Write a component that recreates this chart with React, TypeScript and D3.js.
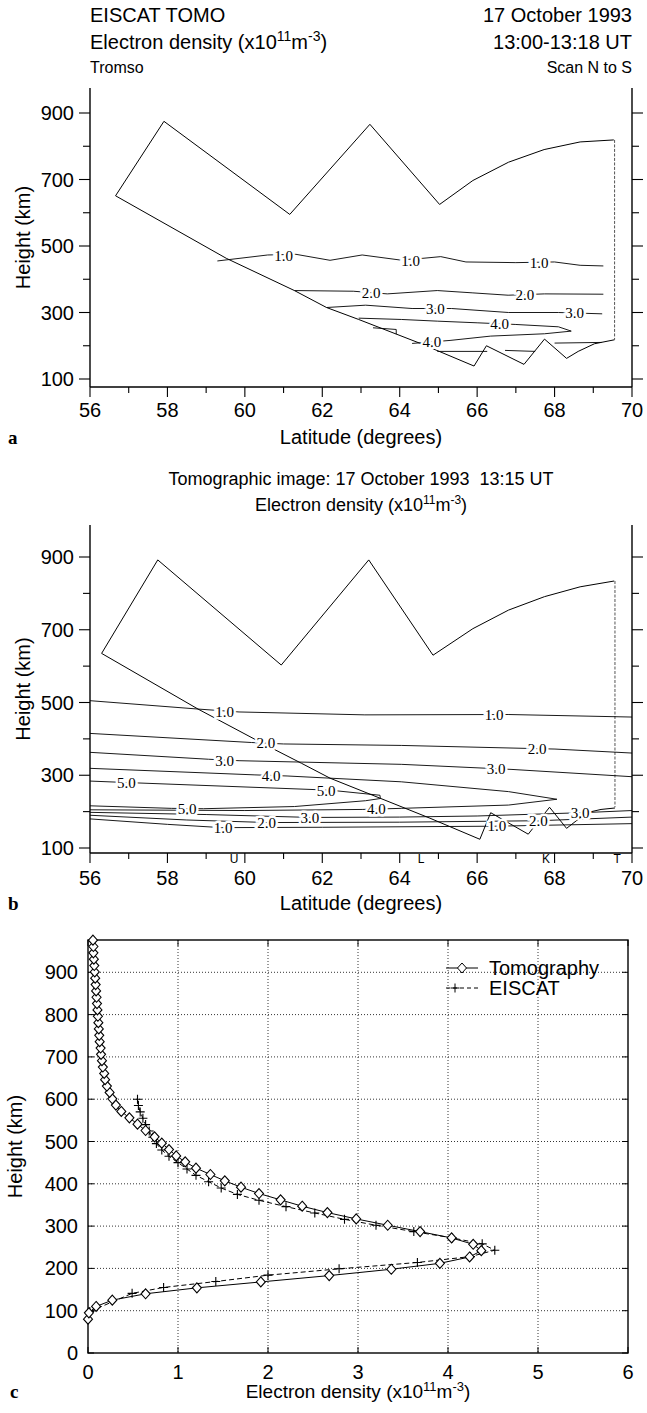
import React from "react";
import * as d3 from "d3";

// ---------------- Panel a (EISCAT) ----------------
const latTicks = [56, 57, 58, 59, 60, 61, 62, 63, 64, 65, 66, 67, 68, 69, 70];
const latLabels = [56, 58, 60, 62, 64, 66, 68, 70];
const hTicksAB = [100, 200, 300, 400, 500, 600, 700, 800, 900];
const hLabelsAB = [100, 300, 500, 700, 900];

const outlineATop: [number, number][] = [
  [56.66, 651], [57.91, 875], [61.16, 595], [63.23, 866], [65.03, 625],
  [65.89, 697], [66.81, 752], [67.73, 790], [68.66, 813], [69.53, 819],
];
const outlineARight: [number, number][] = [[69.55, 819], [69.55, 218]];
const outlineABottom: [number, number][] = [
  [69.55, 218], [69.03, 206], [68.61, 183], [68.31, 162], [67.74, 220], [67.21, 144],
  [66.24, 200], [65.92, 139], [64.51, 208], [62.94, 279], [62.11, 315],
  [61.28, 366], [59.52, 463], [56.66, 651],
];
const contA1: [number, number][] = [
  [59.29, 455], [60.59, 473], [61.32, 475], [62.2, 457], [63.03, 473], [64.0, 458],
  [64.6, 463], [65.06, 468], [65.71, 452], [67.0, 450], [68.0, 452], [68.66, 442], [69.26, 440],
];
const contA2: [number, number][] = [
  [61.28, 366], [62.8, 364], [63.68, 356], [64.97, 366], [65.89, 359], [66.8, 352],
  [67.74, 356], [69.26, 355],
];
const contA3: [number, number][] = [
  [62.11, 315], [63.12, 322], [64.32, 312], [65.34, 312], [66.81, 300], [68.1, 300], [69.23, 296],
];
const contA4: [number, number][] = [
  [62.94, 283], [64.05, 279], [64.97, 274], [66.0, 269], [67.0, 264], [68.1, 257],
  [68.43, 244], [67.74, 236], [66.35, 229], [65.3, 216], [64.32, 207],
];
const contAHook: [number, number][] = [[63.31, 254], [63.91, 249], [63.91, 235]];
const contALow1: [number, number][] = [[64.97, 183], [66.26, 183]];
const contALow2: [number, number][] = [[66.72, 186], [67.5, 183]];
const contALow3: [number, number][] = [[68.0, 208], [69.21, 210]];
const labelsA: [string, number, number][] = [
  ["1.0", 61.0, 471], ["1.0", 64.28, 456], ["1.0", 67.6, 450],
  ["2.0", 63.26, 360], ["2.0", 67.23, 354],
  ["3.0", 64.92, 312], ["3.0", 68.52, 298],
  ["4.0", 66.58, 266], ["4.0", 64.83, 211],
];

// ---------------- Panel b (tomography) ----------------
const outlineBTop: [number, number][] = [
  [56.3, 635], [57.75, 892], [60.94, 603], [63.2, 892], [64.86, 630],
  [65.89, 703], [66.81, 754], [67.74, 791], [68.66, 818], [69.54, 834],
];
const outlineBRight: [number, number][] = [[69.56, 834], [69.56, 212]];
const outlineBBottom: [number, number][] = [
  [69.56, 210], [69.2, 206], [68.83, 197], [68.31, 154], [67.87, 212], [67.32, 138],
  [66.35, 197], [66.07, 124], [64.78, 182], [63.49, 237], [62.2, 292],
  [61.46, 333], [60.45, 388], [58.79, 482], [56.3, 635],
];
const contB1: [number, number][] = [[56, 505], [58.79, 482], [59.85, 474], [63.1, 466], [66.8, 467], [70, 460]];
const contB2: [number, number][] = [[56, 415], [60.17, 390], [61.0, 386], [64.04, 382], [68.01, 372], [70, 361]];
const contB3: [number, number][] = [[56, 363], [59.06, 344], [59.85, 340], [64.04, 330], [66.9, 316], [70, 296]];
const contB4: [number, number][] = [
  [56, 319], [60.26, 301], [61.09, 298], [64.04, 282], [66.81, 255], [68.06, 234],
  [66.81, 218], [64.04, 209], [63.03, 206], [60, 203], [56, 205],
];
const contB5: [number, number][] = [
  [56, 284], [56.94, 280], [62.2, 259], [63.49, 245], [63.5, 236], [63.12, 230],
  [61.28, 214], [58.93, 208], [58.1, 209], [56, 216],
];
const contB3Low: [number, number][] = [[56, 198], [59, 192], [61.7, 184], [64, 185], [66, 188], [68.7, 197], [70, 203]];
const contB2Low: [number, number][] = [[56, 190], [58.5, 177], [60.6, 170], [64, 171], [67.6, 175], [70, 185]];
const contB1Low: [number, number][] = [[56, 180], [58, 165], [59.4, 156], [62, 157], [66.5, 160], [70, 167]];
const labelsB: [string, number, number][] = [
  ["1.0", 59.48, 475], ["1.0", 66.44, 466],
  ["2.0", 60.54, 388], ["2.0", 67.55, 373],
  ["3.0", 59.48, 341], ["3.0", 66.49, 318],
  ["4.0", 60.68, 299], ["4.0", 63.4, 207],
  ["5.0", 56.94, 280], ["5.0", 62.1, 258], ["5.0", 58.51, 208],
  ["1.0", 59.44, 155], ["2.0", 60.56, 169], ["3.0", 61.68, 183],
  ["1.0", 66.51, 160], ["2.0", 67.58, 175], ["3.0", 68.66, 197],
];
const stations: [string, number][] = [["U", 59.72], ["L", 64.55], ["K", 67.78], ["T", 69.62]];

// ---------------- Panel c (profiles) ----------------
const tomoHeight = [
  80, 95, 110, 125, 140, 154, 168, 183, 198, 212, 227, 242, 257, 272, 287, 302, 317, 332,
  347, 362, 377, 392, 407, 422, 437, 452, 466, 481, 496, 511, 526, 541, 556, 571, 586, 601,
  616, 631, 646, 661, 676, 691, 706, 721, 736, 751, 766, 781, 796, 811, 826, 841, 856, 871,
  886, 901, 916, 931, 946, 961, 976,
];
const tomoDensity = [
  0.0, 0.01, 0.09, 0.27, 0.64, 1.21, 1.92, 2.68, 3.37, 3.91, 4.24, 4.37, 4.28, 4.04, 3.69, 3.33, 2.98, 2.66,
  2.38, 2.14, 1.9, 1.7, 1.52, 1.36, 1.2, 1.08, 0.98, 0.9, 0.82, 0.74, 0.64, 0.55, 0.46, 0.37, 0.31, 0.27,
  0.24, 0.21, 0.19, 0.18, 0.165, 0.155, 0.145, 0.14, 0.13, 0.125, 0.12, 0.115, 0.11, 0.105, 0.1, 0.095, 0.09, 0.085,
  0.08, 0.075, 0.07, 0.065, 0.06, 0.06, 0.055,
];
const eiscatHeight = [
  98, 141, 155, 169, 184, 199, 214, 228, 243, 258, 272, 287, 302, 316, 331, 346, 361, 375,
  390, 405, 420, 435, 450, 465, 480, 495, 510, 525, 540, 555, 570, 585, 600,
];
const eiscatDensity = [
  0.02, 0.49, 0.84, 1.42, 2.0, 2.79, 3.66, 4.25, 4.52, 4.38, 4.05, 3.62, 3.2, 2.85, 2.52, 2.2, 1.9, 1.66,
  1.48, 1.34, 1.2, 1.1, 1.0, 0.9, 0.82, 0.76, 0.72, 0.68, 0.64, 0.61, 0.58, 0.56, 0.55,
];
const densTicks = [0, 1, 2, 3, 4, 5, 6];
const heightTicksC = [0, 100, 200, 300, 400, 500, 600, 700, 800, 900];

const SANS = "'Liberation Sans', Arial, Helvetica, sans-serif";
const SERIF = "'Liberation Serif', 'Times New Roman', serif";

const xLat = d3.scaleLinear().domain([56, 70]).range([90, 632]);
const yA = d3.scaleLinear().domain([100, 900]).range([379, 113]);
const yB = d3.scaleLinear().domain([100, 900]).range([848, 557]);
const xC = d3.scaleLinear().domain([0, 6]).range([88, 628]);
const yC = d3.scaleLinear().domain([0, 900]).range([1353, 972.3]);

function Density({ x, y, size = 20, anchor = "start" }: { x: number; y: number; size?: number; anchor?: string }) {
  const s = Math.round(size * 0.68);
  const up = Math.round(size * 0.38);
  return (
    <text x={x} y={y} fontSize={size} fontFamily={SANS} textAnchor={anchor as any}>
      <tspan>Electron density (x10</tspan>
      <tspan dy={-up} fontSize={s}>11</tspan>
      <tspan dy={up}>m</tspan>
      <tspan dy={-up} fontSize={s}>-3</tspan>
      <tspan dy={up}>)</tspan>
    </text>
  );
}

function LatPanel({
  y, top, bottom, label, outlineTop, outlineRight, outlineBottom, contours, labels, extra, tickLabelGap = 30,
}: {
  y: d3.ScaleLinear<number, number>; top: number; bottom: number; label: string;
  outlineTop: [number, number][]; outlineRight: [number, number][]; outlineBottom: [number, number][];
  contours: [number, number][][]; labels: [string, number, number][]; extra?: React.ReactNode; tickLabelGap?: number;
}) {
  const line = d3.line<[number, number]>().x((d) => xLat(d[0])).y((d) => y(d[1]));
  const left = xLat(56), right = xLat(70);
  const midY = (top + bottom) / 2;
  return (
    <g>
      <line x1={left} x2={left} y1={top} y2={bottom} stroke="#000" strokeWidth={1.4} />
      <line x1={right} x2={right} y1={top} y2={bottom} stroke="#000" strokeWidth={1.4} />
      <line x1={left} x2={right} y1={bottom} y2={bottom} stroke="#000" strokeWidth={1.4} />
      {latTicks.map((t) => {
        const major = latLabels.includes(t);
        return <line key={"bt" + t} x1={xLat(t)} x2={xLat(t)} y1={bottom} y2={bottom + (major ? 10 : 6)} stroke="#000" strokeWidth={1.1} />;
      })}
      {latLabels.map((t) => (
        <text key={"bl" + t} x={xLat(t)} y={bottom + tickLabelGap} fontSize={20} fontFamily={SANS} textAnchor="middle">{t}</text>
      ))}
      {hTicksAB.map((t) => {
        const major = hLabelsAB.includes(t);
        const len = major ? 11 : 7;
        return (
          <g key={"ht" + t}>
            <line x1={left - len} x2={left} y1={y(t)} y2={y(t)} stroke="#000" strokeWidth={1.1} />
            <line x1={right} x2={right + len} y1={y(t)} y2={y(t)} stroke="#000" strokeWidth={1.1} />
          </g>
        );
      })}
      {hLabelsAB.map((t) => (
        <text key={"hl" + t} x={74} y={y(t)} dy="0.35em" fontSize={20} fontFamily={SANS} textAnchor="end">{t}</text>
      ))}
      <text transform={`translate(30,${midY}) rotate(-90)`} fontSize={20} fontFamily={SANS} textAnchor="middle">Height (km)</text>
      <text x={(left + right) / 2} y={bottom + 57} fontSize={20} fontFamily={SANS} textAnchor="middle">Latitude (degrees)</text>
      <text x={8} y={bottom + 57} fontSize={19} fontWeight="bold" fontFamily={SERIF}>{label}</text>
      <path d={line(outlineTop) || ""} fill="none" stroke="#000" strokeWidth={1} />
      <path d={line(outlineBottom) || ""} fill="none" stroke="#000" strokeWidth={1} />
      <path d={line(outlineRight) || ""} fill="none" stroke="#555" strokeWidth={1} strokeDasharray="3,1.5" />
      {contours.map((c, i) => (
        <path key={"c" + i} d={line(c) || ""} fill="none" stroke="#000" strokeWidth={0.9} />
      ))}
      {labels.map(([txt, la, h], i) => (
        <text key={"l" + i} x={xLat(la)} y={y(h)} dy="0.35em" fontSize={15} fontFamily={SERIF} textAnchor="middle"
          stroke="#fff" strokeWidth={5} paintOrder="stroke" fill="#000">{txt}</text>
      ))}
      {extra}
    </g>
  );
}

function ProfilePanel() {
  const left = xC(0), right = xC(6), bottom = yC(0), top = 940;
  const tomo: [number, number][] = tomoHeight.map((h, i) => [tomoDensity[i], h]);
  const eis: [number, number][] = eiscatHeight.map((h, i) => [eiscatDensity[i], h]);
  const line = d3.line<[number, number]>().x((d) => xC(d[0])).y((d) => yC(d[1]));
  const diamond = "M0,-5 L4.5,0 L0,5 L-4.5,0 Z";
  const plus = "M-4.5,0 L4.5,0 M0,-4.5 L0,4.5";
  return (
    <g>
      {densTicks.slice(1, 6).map((t) => (
        <line key={"gx" + t} x1={xC(t)} x2={xC(t)} y1={top} y2={bottom} stroke="#000" strokeWidth={0.8} strokeDasharray="1,2" />
      ))}
      {heightTicksC.slice(1).map((t) => (
        <line key={"gy" + t} x1={left} x2={right} y1={yC(t)} y2={yC(t)} stroke="#000" strokeWidth={0.8} strokeDasharray="1,2" />
      ))}
      <rect x={left} y={top} width={right - left} height={bottom - top} fill="none" stroke="#000" strokeWidth={1.4} />
      {densTicks.map((t) => (
        <g key={"tx" + t}>
          <line x1={xC(t)} x2={xC(t)} y1={bottom} y2={bottom - 6} stroke="#000" />
          <line x1={xC(t)} x2={xC(t)} y1={top} y2={top + 6} stroke="#000" />
          <text x={xC(t)} y={bottom + 26} fontSize={20} fontFamily={SANS} textAnchor="middle">{t}</text>
        </g>
      ))}
      {heightTicksC.map((t) => (
        <g key={"ty" + t}>
          <line x1={left} x2={left + 6} y1={yC(t)} y2={yC(t)} stroke="#000" />
          <line x1={right} x2={right - 6} y1={yC(t)} y2={yC(t)} stroke="#000" />
          <text x={78} y={yC(t)} dy="0.35em" fontSize={20} fontFamily={SANS} textAnchor="end">{t}</text>
        </g>
      ))}
      <text transform={`translate(22,${(top + bottom) / 2}) rotate(-90)`} fontSize={20} fontFamily={SANS} textAnchor="middle">Height (km)</text>
      <Density x={(left + right) / 2} y={bottom + 45} size={19} anchor="middle" />
      <text x={10} y={bottom + 45} fontSize={19} fontWeight="bold" fontFamily={SERIF}>c</text>
      <path d={line(eis) || ""} fill="none" stroke="#000" strokeWidth={1} strokeDasharray="5,3" />
      {eis.map((d, i) => (
        <path key={"e" + i} d={plus} transform={`translate(${xC(d[0])},${yC(d[1])})`} stroke="#000" strokeWidth={1.1} fill="none" />
      ))}
      <path d={line(tomo) || ""} fill="none" stroke="#000" strokeWidth={1} />
      {tomo.map((d, i) => (
        <path key={"t" + i} d={diamond} transform={`translate(${xC(d[0])},${yC(d[1])})`} stroke="#000" strokeWidth={1.1} fill="#fff" />
      ))}
      <line x1={446} x2={478} y1={968} y2={968} stroke="#000" />
      <path d={diamond} transform="translate(462,968)" stroke="#000" fill="#fff" />
      <text x={489} y={968} dy="0.35em" fontSize={20} fontFamily={SANS}>Tomography</text>
      <line x1={446} x2={478} y1={988} y2={988} stroke="#000" strokeDasharray="4,3" />
      <path d={plus} transform="translate(455,988)" stroke="#000" />
      <text x={489} y={988} dy="0.35em" fontSize={20} fontFamily={SANS}>EISCAT</text>
    </g>
  );
}

export default function App() {
  const bottomB = 853;
  const stationMarks = (
    <g>
      {stations.map(([s, la]) => (
        <text key={s} x={xLat(la)} y={bottomB + 10} fontSize={12} fontFamily={SANS} textAnchor="middle">{s}</text>
      ))}
    </g>
  );
  return (
    <svg width={647} height={1413} style={{ position: "absolute", left: 0, top: 0, background: "#fff" }}>
      <rect width={647} height={1413} fill="#fff" />
      <text x={90} y={22} fontSize={20} fontFamily={SANS}>EISCAT TOMO</text>
      <Density x={90} y={49} size={20} />
      <text x={90} y={73} fontSize={16} fontFamily={SANS}>Tromso</text>
      <text x={632} y={22} fontSize={20} fontFamily={SANS} textAnchor="end">17 October 1993</text>
      <text x={632} y={49} fontSize={20} fontFamily={SANS} textAnchor="end">13:00-13:18 UT</text>
      <text x={632} y={73} fontSize={16} fontFamily={SANS} textAnchor="end">Scan N to S</text>
      <LatPanel y={yA} top={88} bottom={387} label="a" outlineTop={outlineATop} outlineRight={outlineARight}
        outlineBottom={outlineABottom}
        contours={[contA1, contA2, contA3, contA4, contAHook, contALow1, contALow2, contALow3]} labels={labelsA} />
      <text x={361} y={485} fontSize={18} fontFamily={SANS} textAnchor="middle">{"Tomographic image: 17 October 1993\u00A0\u00A013:15 UT"}</text>
      <Density x={361} y={511} size={18} anchor="middle" />
      <LatPanel y={yB} top={525} bottom={bottomB} label="b" outlineTop={outlineBTop} outlineRight={outlineBRight}
        outlineBottom={outlineBBottom}
        contours={[contB1, contB2, contB3, contB4, contB5, contB3Low, contB2Low, contB1Low]} labels={labelsB}
        extra={stationMarks} tickLabelGap={32} />
      <ProfilePanel />
    </svg>
  );
}
